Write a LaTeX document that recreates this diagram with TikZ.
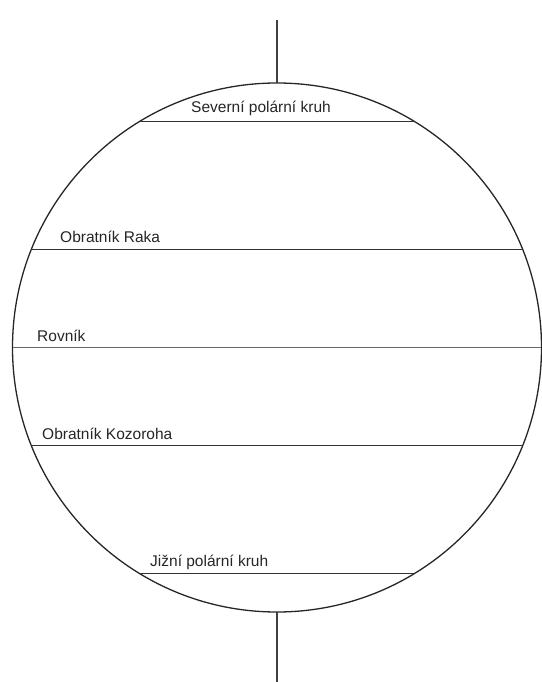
\documentclass[tikz,border=0pt]{standalone}
\usepackage{fontspec}
\setmainfont{Liberation Sans}
\usetikzlibrary{positioning}

\begin{document}
\begin{tikzpicture}[
    x=1pt, y=-1pt,
    globe/.style={
        circle, draw=black!85, line width=1.3pt,
        minimum size=529pt, inner sep=0pt, outer sep=0pt},
    circle line/.style={draw=black!80, line width=1.4pt},
    equator/.style={draw=black!60, line width=0.7pt},
    axis/.style={draw=black!75, line width=1.1pt},
    lbl/.style={anchor=base west, font=\fontsize{15.5}{18}\selectfont,
        text=black!85, inner sep=0pt}
]

%% ── Frame ───────────────────────────────────────────────────────
\useasboundingbox (0,0) rectangle (541,682);

%% ── Globe ───────────────────────────────────────────────────────
\node[globe] (globe) at (277,347.5) {};

%% ── Axis ends ───────────────────────────────────────────────────
\coordinate (axtop) at (277,20);
\coordinate (axbot) at (277,682);

%% ── Ends of the parallels (on the circle) ───────────────────────
\coordinate (sevL) at (139.6,121.5);
\coordinate (sevR) at (414.4,121.5);
\coordinate (rakL) at (31.4,249.3);
\coordinate (rakR) at (522.6,249.3);
\coordinate (rovL) at (12.5,347.5);
\coordinate (rovR) at (541,347.5);
\coordinate (kozL) at (31.4,445.7);
\coordinate (kozR) at (522.6,445.7);
\coordinate (jizL) at (139.6,573.5);
\coordinate (jizR) at (414.4,573.5);

%% ── Parallels ───────────────────────────────────────────────────
\draw[circle line] (sevL) -- (sevR);
\draw[circle line] (rakL) -- (rakR);
\draw[equator]     (rovL) -- (rovR);
\draw[circle line] (kozL) -- (kozR);
\draw[circle line] (jizL) -- (jizR);

%% ── Axis ────────────────────────────────────────────────────────
\draw[axis] (axtop) -- (globe.north);
\draw[axis] (globe.south) -- (axbot);

%% ── Labels ──────────────────────────────────────────────────────
\node[lbl] (sev) at (191,113) {Severní polární kruh};
\node[lbl] (rak) at (60,242)  {Obratník Raka};
\node[lbl] (rov) at (37,341)  {Rovník};
\node[lbl] (koz) at (42,439)  {Obratník Kozoroha};
\node[lbl] (jiz) at (150,566) {Jižní polární kruh};

\end{tikzpicture}
\end{document}
